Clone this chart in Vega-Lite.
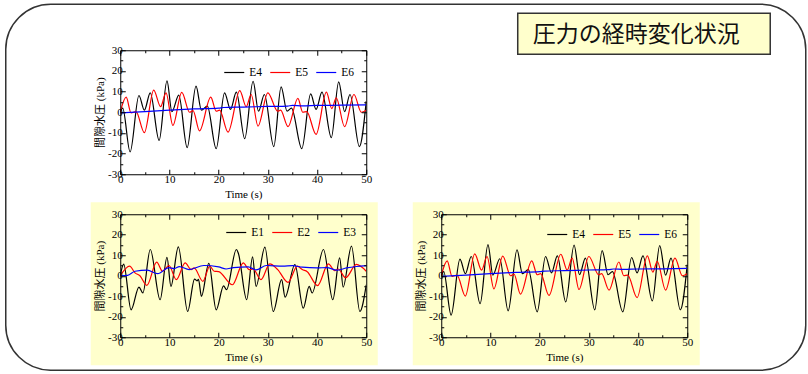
{
  "$schema": "https://vega.github.io/schema/vega-lite/v6.json",
  "padding": {"left": 4.25, "top": 3.25, "right": 0, "bottom": 0},
  "autosize": {"type": "pad"},
  "background": "white",
  "bounds": "flush",
  "spacing": 40,
  "datasets": {
    "top": [
      {"s":"E4","t":0,"v":0},{"s":"E4","t":0.5,"v":2},{"s":"E4","t":2.0,"v":-19.2},{"s":"E4","t":3.8,"v":8.1},{"s":"E4","t":4.9,"v":1},{"s":"E4","t":6.1,"v":9.4},{"s":"E4","t":7.9,"v":-13.6},{"s":"E4","t":9.5,"v":15.2},{"s":"E4","t":10.5,"v":0.3},{"s":"E4","t":11.9,"v":8.3},{"s":"E4","t":13.6,"v":-17.1},{"s":"E4","t":15.4,"v":12.6},{"s":"E4","t":16.5,"v":1},{"s":"E4","t":17.7,"v":3},{"s":"E4","t":19.5,"v":-17.6},{"s":"E4","t":21.2,"v":9.4},{"s":"E4","t":22.4,"v":1.4},{"s":"E4","t":23.6,"v":9.7},{"s":"E4","t":25.3,"v":-12.8},{"s":"E4","t":27.0,"v":15},{"s":"E4","t":28.1,"v":0.5},{"s":"E4","t":29.3,"v":8.6},{"s":"E4","t":31.2,"v":-16.6},{"s":"E4","t":32.7,"v":12.3},{"s":"E4","t":33.9,"v":0.5},{"s":"E4","t":34.8,"v":2},{"s":"E4","t":36.9,"v":-17.6},{"s":"E4","t":38.7,"v":8.9},{"s":"E4","t":39.8,"v":1.4},{"s":"E4","t":41.0,"v":9.7},{"s":"E4","t":42.9,"v":-12.3},{"s":"E4","t":44.4,"v":14.7},{"s":"E4","t":45.6,"v":0.3},{"s":"E4","t":46.7,"v":8.6},{"s":"E4","t":48.6,"v":-16.6},{"s":"E4","t":50,"v":5.4},
      {"s":"E5","t":0,"v":0},{"s":"E5","t":1.2,"v":7.3},{"s":"E5","t":2.2,"v":-0.3},{"s":"E5","t":3.2,"v":0.3},{"s":"E5","t":4.9,"v":-9.9},{"s":"E5","t":6.8,"v":10.7},{"s":"E5","t":8.2,"v":2.7},{"s":"E5","t":9.3,"v":9.4},{"s":"E5","t":10.7,"v":-6.4},{"s":"E5","t":12.5,"v":9.6},{"s":"E5","t":14.1,"v":0},{"s":"E5","t":14.8,"v":0.8},{"s":"E5","t":16.1,"v":-9},{"s":"E5","t":18.4,"v":7.3},{"s":"E5","t":19.5,"v":0.5},{"s":"E5","t":20.2,"v":1},{"s":"E5","t":21.9,"v":-9.6},{"s":"E5","t":24.3,"v":10.5},{"s":"E5","t":25.6,"v":2.7},{"s":"E5","t":26.6,"v":8.6},{"s":"E5","t":28,"v":-6.7},{"s":"E5","t":30,"v":9.4},{"s":"E5","t":32,"v":0.5},{"s":"E5","t":32.6,"v":1},{"s":"E5","t":34.1,"v":-7},{"s":"E5","t":36.1,"v":6.7},{"s":"E5","t":37.1,"v":0},{"s":"E5","t":37.9,"v":0.3},{"s":"E5","t":39.8,"v":-10.7},{"s":"E5","t":41.9,"v":9.7},{"s":"E5","t":43,"v":1.8},{"s":"E5","t":43.9,"v":7},{"s":"E5","t":45.6,"v":-7},{"s":"E5","t":47.5,"v":8.6},{"s":"E5","t":49,"v":0},{"s":"E5","t":50,"v":1},
      {"s":"E6","t":0,"v":-0.3},{"s":"E6","t":5,"v":0.3},{"s":"E6","t":10,"v":1},{"s":"E6","t":15,"v":1.6},{"s":"E6","t":20,"v":2},{"s":"E6","t":21,"v":2.3},{"s":"E6","t":25,"v":2.5},{"s":"E6","t":30,"v":2.8},{"s":"E6","t":34,"v":3},{"s":"E6","t":35,"v":3.3},{"s":"E6","t":37,"v":3.1},{"s":"E6","t":40,"v":3.3},{"s":"E6","t":45,"v":3.4},{"s":"E6","t":50,"v":3.6}
    ],
    "bl": [
      {"s":"E1","t":0,"v":0},{"s":"E1","t":0.7,"v":5.7},{"s":"E1","t":2.2,"v":-16.6},{"s":"E1","t":3.8,"v":-5.5},{"s":"E1","t":4.6,"v":-8.4},{"s":"E1","t":6.1,"v":12.8},{"s":"E1","t":8.1,"v":-11.7},{"s":"E1","t":9.5,"v":9},{"s":"E1","t":10.3,"v":-5.2},{"s":"E1","t":11.8,"v":14.1},{"s":"E1","t":13.7,"v":-17.4},{"s":"E1","t":15.1,"v":-1.6},{"s":"E1","t":15.6,"v":-2.5},{"s":"E1","t":15.9,"v":-1.8},{"s":"E1","t":16.5,"v":-10},{"s":"E1","t":18.0,"v":6},{"s":"E1","t":19.5,"v":-16.6},{"s":"E1","t":21.0,"v":-4.9},{"s":"E1","t":21.6,"v":-6.8},{"s":"E1","t":23.6,"v":12.8},{"s":"E1","t":24.0,"v":11},{"s":"E1","t":25.7,"v":-11.7},{"s":"E1","t":26.9,"v":9.2},{"s":"E1","t":27.6,"v":-5.2},{"s":"E1","t":29.4,"v":14},{"s":"E1","t":31.1,"v":-17.4},{"s":"E1","t":32.8,"v":-1.9},{"s":"E1","t":33.5,"v":-10.4},{"s":"E1","t":35.5,"v":5.5},{"s":"E1","t":37.2,"v":-15.8},{"s":"E1","t":38.4,"v":-5.2},{"s":"E1","t":39.0,"v":-8.4},{"s":"E1","t":41.3,"v":12.8},{"s":"E1","t":43.2,"v":-11.7},{"s":"E1","t":44.6,"v":8.7},{"s":"E1","t":45.3,"v":-5.5},{"s":"E1","t":47.0,"v":14.5},{"s":"E1","t":48.7,"v":-17.4},{"s":"E1","t":50,"v":-4.4},
      {"s":"E2","t":0,"v":0},{"s":"E2","t":1.9,"v":4.7},{"s":"E2","t":3.0,"v":1.4},{"s":"E2","t":4.0,"v":0},{"s":"E2","t":5.4,"v":-4.7},{"s":"E2","t":7.4,"v":6.6},{"s":"E2","t":8.6,"v":2.2},{"s":"E2","t":9.9,"v":5},{"s":"E2","t":11.4,"v":-1.9},{"s":"E2","t":13.2,"v":6.3},{"s":"E2","t":14.4,"v":3},{"s":"E2","t":15.0,"v":3.8},{"s":"E2","t":16.8,"v":-2.7},{"s":"E2","t":18.2,"v":4.7},{"s":"E2","t":19.1,"v":2.2},{"s":"E2","t":20,"v":2},{"s":"E2","t":22.8,"v":-4.4},{"s":"E2","t":25,"v":6.3},{"s":"E2","t":26.2,"v":3},{"s":"E2","t":27,"v":3.3},{"s":"E2","t":28.6,"v":-1.9},{"s":"E2","t":30.4,"v":5.8},{"s":"E2","t":32,"v":3},{"s":"E2","t":34.1,"v":-3.2},{"s":"E2","t":36,"v":4.7},{"s":"E2","t":37,"v":3},{"s":"E2","t":38,"v":2},{"s":"E2","t":40.1,"v":-4.8},{"s":"E2","t":42.3,"v":5.8},{"s":"E2","t":43.6,"v":2.5},{"s":"E2","t":44.3,"v":3.3},{"s":"E2","t":45.8,"v":-1},{"s":"E2","t":48,"v":5.5},{"s":"E2","t":50,"v":2.2},
      {"s":"E3","t":0,"v":0},{"s":"E3","t":1.5,"v":0.2},{"s":"E3","t":3,"v":2.2},{"s":"E3","t":5.5,"v":2.7},{"s":"E3","t":7.6,"v":1},{"s":"E3","t":9.9,"v":4},{"s":"E3","t":11,"v":3.5},{"s":"E3","t":12,"v":4.5},{"s":"E3","t":14,"v":3},{"s":"E3","t":17,"v":5},{"s":"E3","t":20,"v":4.3},{"s":"E3","t":21.5,"v":3.3},{"s":"E3","t":23,"v":4},{"s":"E3","t":26,"v":4.3},{"s":"E3","t":27.6,"v":2.9},{"s":"E3","t":29.7,"v":5},{"s":"E3","t":33,"v":4.7},{"s":"E3","t":35,"v":4.9},{"s":"E3","t":37,"v":4.2},{"s":"E3","t":40,"v":3.8},{"s":"E3","t":42,"v":4},{"s":"E3","t":44,"v":2.7},{"s":"E3","t":46,"v":3.8},{"s":"E3","t":48,"v":4.5},{"s":"E3","t":50,"v":4.9}
    ]
  },
  "vconcat": [
    {
      "width": 246, "height": 124,
      "layer": [
        {
          "data": {"values": [{"k": "frame"}]},
          "mark": {"type": "rect", "fill": "transparent", "stroke": "#333333", "strokeWidth": 1.5, "cornerRadius": 45, "clip": false},
          "encoding": {
            "x": {"datum": -23.27, "type": "quantitative", "scale": {"domain": [0, 50]}, "axis": null},
            "x2": {"datum": 139.33},
            "y": {"datum": 52.26, "type": "quantitative", "scale": {"domain": [-30, 30]}, "axis": null},
            "y2": {"datum": -124.84}
          }
        },
        {
          "data": {"values": [{"k": "titlebox"}]},
          "mark": {"type": "rect", "fill": "#FFFFCC", "stroke": "#333333", "strokeWidth": 1.5, "clip": false},
          "encoding": {
            "x": {"datum": 80.79, "type": "quantitative", "axis": null},
            "x2": {"datum": 132.11},
            "y": {"datum": 47.9, "type": "quantitative", "axis": null},
            "y2": {"datum": 28.06}
          }
        },
        {
          "data": {"values": [{"label": "圧力の経時変化状況"}]},
          "mark": {"type": "text", "align": "left", "baseline": "middle", "font": "Noto Sans CJK JP", "fontSize": 23, "color": "#111111", "clip": false},
          "encoding": {
            "x": {"datum": 83.84, "type": "quantitative", "axis": null},
            "y": {"datum": 37.26, "type": "quantitative", "axis": null},
            "text": {"field": "label", "type": "nominal"}
          }
        },
        {
          "data": {"name": "top"},
          "mark": {"type": "line", "interpolate": "monotone", "strokeWidth": 1.2, "clip": true},
          "encoding": {
            "x": {"field": "t", "type": "quantitative", "scale": {"domain": [0, 50]},
              "axis": {"orient": "bottom", "zindex": 1, "values": [0,5,10,15,20,25,30,35,40,45,50], "labelExpr": "datum.value % 10 === 0 ? '' + datum.value : ''", "tickSize": {"condition": {"test": "datum.value % 10 === 0", "value": -5}, "value": -2.5}, "labelPadding": 4, "title": "Time (s)", "titlePadding": 2}},
            "y": {"field": "v", "type": "quantitative", "scale": {"domain": [-30, 30]},
              "axis": {"orient": "left", "zindex": 1, "values": [-30,-25,-20,-15,-10,-5,0,5,10,15,20,25,30], "labelExpr": "datum.value % 10 === 0 ? '' + datum.value : ''", "tickSize": {"condition": {"test": "datum.value % 10 === 0", "value": -5}, "value": -2.5}, "labelPadding": 3, "title": "間隙水圧 (kPa)", "titlePadding": 2}},
            "color": {"field": "s", "type": "nominal", "scale": {"domain": ["E4", "E5", "E6"], "range": ["#000000", "#ff0000", "#0000ff"]}, "legend": {"title": null, "legendX": 103, "legendY": 11}}
          }
        },
        {
          "data": {"name": "top"},
          "mark": {"type": "line", "strokeOpacity": 0},
          "encoding": {
            "x": {"field": "t", "type": "quantitative", "axis": {"orient": "top", "zindex": 1, "values": [0,5,10,15,20,25,30,35,40,45,50], "labels": false, "tickSize": {"condition": {"test": "datum.value % 10 === 0", "value": -5}, "value": -2.5}, "title": null}},
            "y": {"field": "v", "type": "quantitative", "axis": {"orient": "right", "zindex": 1, "values": [-30,-25,-20,-15,-10,-5,0,5,10,15,20,25,30], "labels": false, "tickSize": {"condition": {"test": "datum.value % 10 === 0", "value": -5}, "value": -2.5}, "title": null}},
            "detail": {"field": "s", "type": "nominal"}
          }
        }
      ],
      "resolve": {"axis": {"x": "independent", "y": "independent"}}
    },
    {
      "bounds": "flush",
      "spacing": 75,
      "hconcat": [
        {
          "width": 246, "height": 123,
          "layer": [
            {
              "data": {"values": [{"k": "panel"}]},
              "mark": {"type": "rect", "fill": "#FFFFCC", "clip": false},
              "encoding": {
                "x": {"datum": -6.0, "type": "quantitative", "scale": {"domain": [0, 50]}, "axis": null},
                "x2": {"datum": 52.34},
                "y": {"datum": 35.85, "type": "quantitative", "scale": {"domain": [-30, 30]}, "axis": null},
                "y2": {"datum": -43.66}
              }
            },
            {
              "data": {"name": "bl"},
              "mark": {"type": "line", "interpolate": "monotone", "strokeWidth": 1.2, "clip": true},
              "encoding": {
                "x": {"field": "t", "type": "quantitative", "scale": {"domain": [0, 50]},
                  "axis": {"orient": "bottom", "zindex": 1, "values": [0,5,10,15,20,25,30,35,40,45,50], "labelExpr": "datum.value % 10 === 0 ? '' + datum.value : ''", "tickSize": {"condition": {"test": "datum.value % 10 === 0", "value": -5}, "value": -2.5}, "labelPadding": 4, "title": "Time (s)", "titlePadding": 2}},
                "y": {"field": "v", "type": "quantitative", "scale": {"domain": [-30, 30]},
                  "axis": {"orient": "left", "zindex": 1, "values": [-30,-25,-20,-15,-10,-5,0,5,10,15,20,25,30], "labelExpr": "datum.value % 10 === 0 ? '' + datum.value : ''", "tickSize": {"condition": {"test": "datum.value % 10 === 0", "value": -5}, "value": -2.5}, "labelPadding": 3, "title": "間隙水圧 (kPa)", "titlePadding": 2}},
                "color": {"field": "s", "type": "nominal", "scale": {"domain": ["E1", "E2", "E3"], "range": ["#000000", "#ff0000", "#0000ff"]}, "legend": {"title": null, "legendX": 105, "legendY": 7}}
              }
            },
            {
              "data": {"name": "bl"},
              "mark": {"type": "line", "strokeOpacity": 0},
              "encoding": {
                "x": {"field": "t", "type": "quantitative", "axis": {"orient": "top", "zindex": 1, "values": [0,5,10,15,20,25,30,35,40,45,50], "labels": false, "tickSize": {"condition": {"test": "datum.value % 10 === 0", "value": -5}, "value": -2.5}, "title": null}},
                "y": {"field": "v", "type": "quantitative", "axis": {"orient": "right", "zindex": 1, "values": [-30,-25,-20,-15,-10,-5,0,5,10,15,20,25,30], "labels": false, "tickSize": {"condition": {"test": "datum.value % 10 === 0", "value": -5}, "value": -2.5}, "title": null}},
                "detail": {"field": "s", "type": "nominal"}
              }
            }
          ],
          "resolve": {"axis": {"x": "independent", "y": "independent"}}
        },
        {
          "width": 246, "height": 123,
          "layer": [
            {
              "data": {"values": [{"k": "panel"}]},
              "mark": {"type": "rect", "fill": "#FFFFCC", "clip": false},
              "encoding": {
                "x": {"datum": -5.79, "type": "quantitative", "scale": {"domain": [0, 50]}, "axis": null},
                "x2": {"datum": 52.54},
                "y": {"datum": 35.85, "type": "quantitative", "scale": {"domain": [-30, 30]}, "axis": null},
                "y2": {"datum": -43.66}
              }
            },
            {
              "data": {"name": "top"},
              "mark": {"type": "line", "interpolate": "monotone", "strokeWidth": 1.2, "clip": true},
              "encoding": {
                "x": {"field": "t", "type": "quantitative", "scale": {"domain": [0, 50]},
                  "axis": {"orient": "bottom", "zindex": 1, "values": [0,5,10,15,20,25,30,35,40,45,50], "labelExpr": "datum.value % 10 === 0 ? '' + datum.value : ''", "tickSize": {"condition": {"test": "datum.value % 10 === 0", "value": -5}, "value": -2.5}, "labelPadding": 4, "title": "Time (s)", "titlePadding": 2}},
                "y": {"field": "v", "type": "quantitative", "scale": {"domain": [-30, 30]},
                  "axis": {"orient": "left", "zindex": 1, "values": [-30,-25,-20,-15,-10,-5,0,5,10,15,20,25,30], "labelExpr": "datum.value % 10 === 0 ? '' + datum.value : ''", "tickSize": {"condition": {"test": "datum.value % 10 === 0", "value": -5}, "value": -2.5}, "labelPadding": 3, "title": "間隙水圧 (kPa)", "titlePadding": 2}},
                "color": {"field": "s", "type": "nominal", "scale": {"domain": ["E4", "E5", "E6"], "range": ["#000000", "#ff0000", "#0000ff"]}, "legend": {"title": null, "legendX": 105, "legendY": 9}}
              }
            },
            {
              "data": {"name": "top"},
              "mark": {"type": "line", "strokeOpacity": 0},
              "encoding": {
                "x": {"field": "t", "type": "quantitative", "axis": {"orient": "top", "zindex": 1, "values": [0,5,10,15,20,25,30,35,40,45,50], "labels": false, "tickSize": {"condition": {"test": "datum.value % 10 === 0", "value": -5}, "value": -2.5}, "title": null}},
                "y": {"field": "v", "type": "quantitative", "axis": {"orient": "right", "zindex": 1, "values": [-30,-25,-20,-15,-10,-5,0,5,10,15,20,25,30], "labels": false, "tickSize": {"condition": {"test": "datum.value % 10 === 0", "value": -5}, "value": -2.5}, "title": null}},
                "detail": {"field": "s", "type": "nominal"}
              }
            }
          ],
          "resolve": {"axis": {"x": "independent", "y": "independent"}}
        }
      ],
      "resolve": {"scale": {"color": "independent"}, "legend": {"color": "independent"}}
    }
  ],
  "resolve": {"scale": {"color": "independent"}, "legend": {"color": "independent"}},
  "config": {
    "view": {"stroke": null},
    "font": "Liberation Serif",
    "axis": {
      "labelFont": "Liberation Serif", "labelFontSize": 11, "labelColor": "#000000",
      "titleFont": "Liberation Serif, Noto Sans CJK JP", "titleFontSize": 11, "titleFontWeight": "normal", "titleColor": "#000000",
      "domainColor": "#000000", "domainWidth": 1, "tickColor": "#000000", "tickWidth": 1,
      "grid": false, "zindex": 1, "labelFlush": false, "labelOverlap": false
    },
    "legend": {
      "orient": "none", "direction": "horizontal", "labelFont": "Liberation Serif", "labelFontSize": 11.5, "labelColor": "#000000",
      "symbolType": "stroke", "symbolSize": 400, "symbolStrokeWidth": 1.2, "columnPadding": 5, "labelOffset": 4, "padding": 0
    }
  }
}
